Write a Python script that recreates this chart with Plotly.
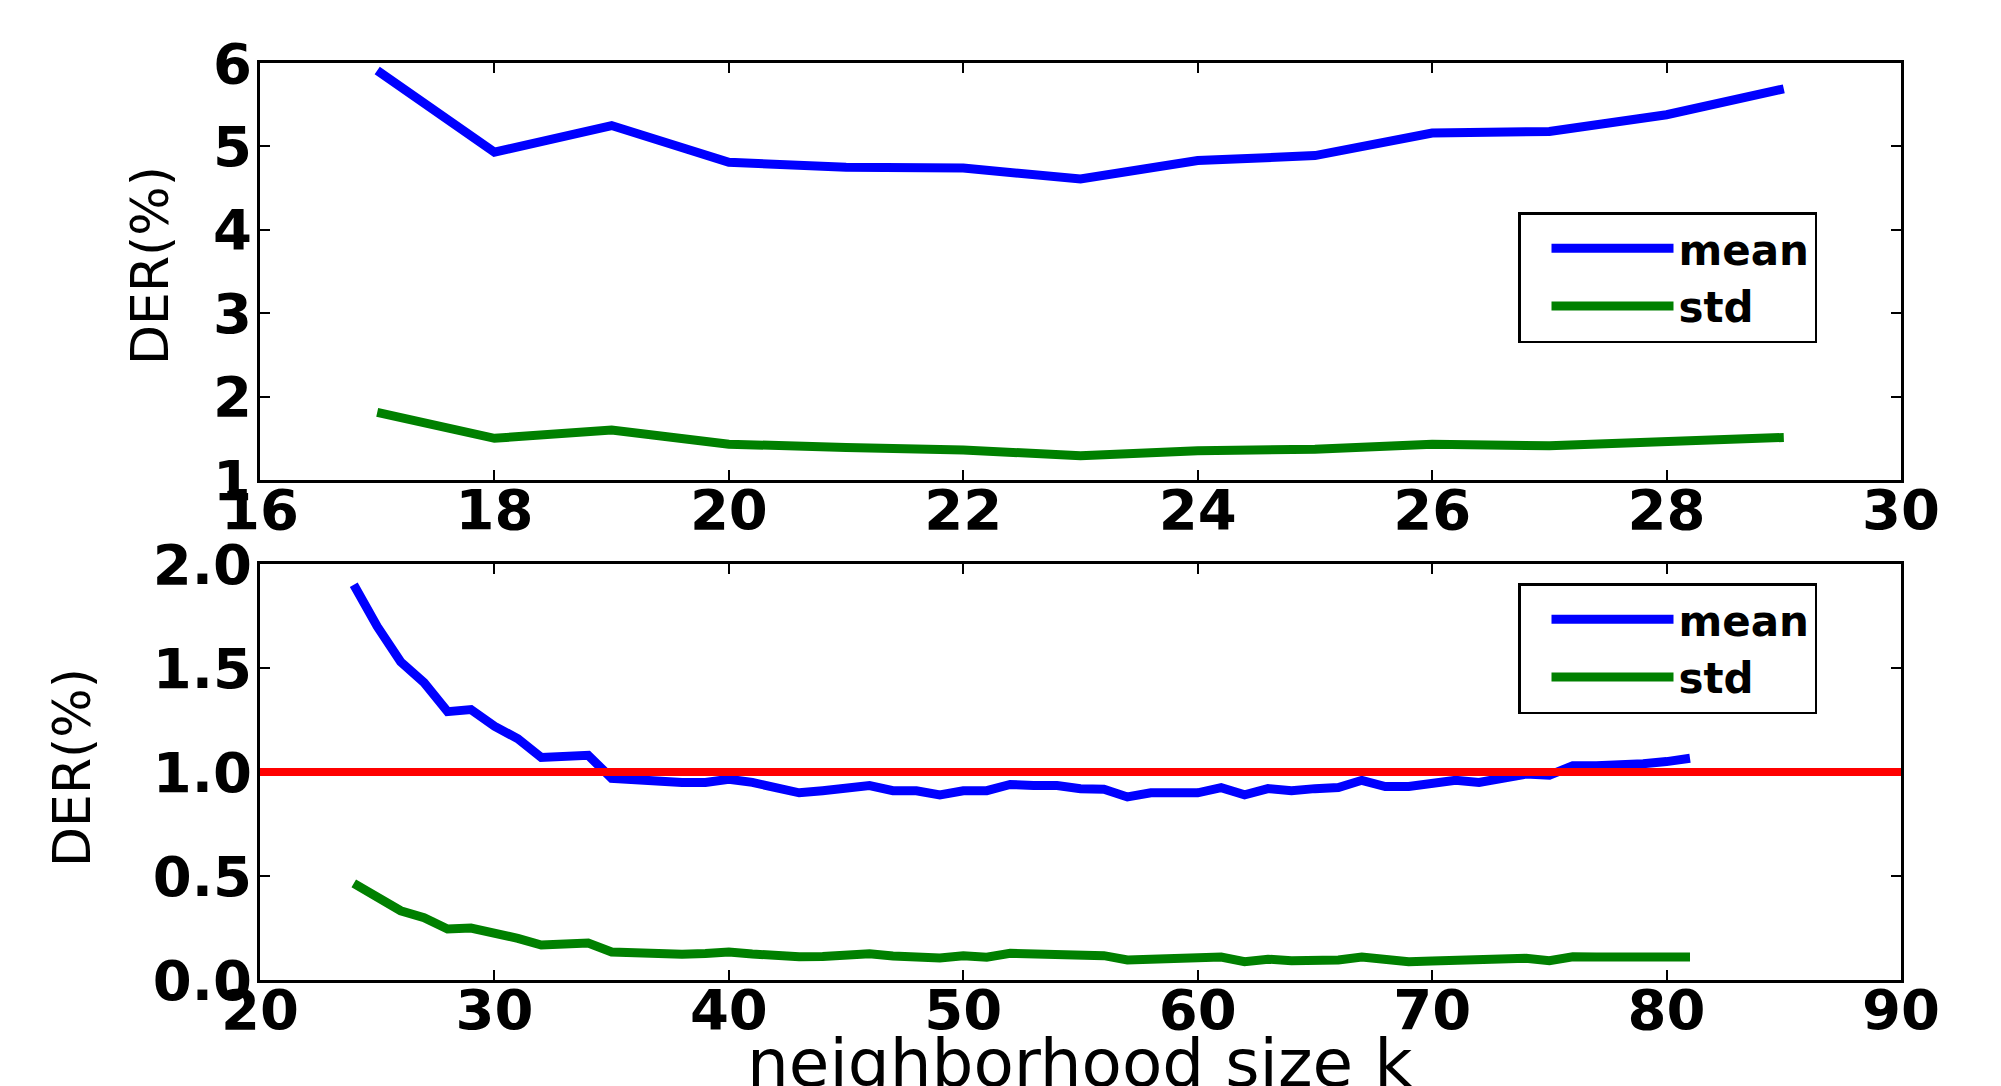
import plotly.graph_objects as go

# ---------------- data ----------------
k_top = [17, 18, 19, 20, 21, 22, 23, 24, 25, 26, 27, 28, 29]
mean_top = [5.91, 4.93, 5.25, 4.81, 4.75, 4.74, 4.61, 4.83, 4.89, 5.16, 5.18, 5.38, 5.69]
std_top = [1.81, 1.50, 1.60, 1.43, 1.39, 1.36, 1.29, 1.35, 1.37, 1.43, 1.41, 1.45, 1.51]

k_bottom = [24, 25, 26, 27, 28, 29, 30, 31, 32, 33, 34, 35, 36, 37, 38, 39, 40, 41, 42,
            43, 44, 45, 46, 47, 48, 49, 50, 51, 52, 53, 54, 55, 56, 57, 58, 59, 60, 61,
            62, 63, 64, 65, 66, 67, 68, 69, 70, 71, 72, 73, 74, 75, 76, 77, 78, 79, 80, 81]
mean_bottom = [1.90, 1.70, 1.53, 1.43, 1.29, 1.30, 1.22, 1.16, 1.07, 1.08, 1.08, 0.97,
               0.96, 0.96, 0.95, 0.95, 0.965, 0.95, 0.92, 0.90, 0.91, 0.92, 0.935, 0.91,
               0.91, 0.89, 0.91, 0.91, 0.94, 0.935, 0.935, 0.92, 0.917, 0.88, 0.90, 0.90,
               0.90, 0.925, 0.89, 0.92, 0.91, 0.92, 0.925, 0.96, 0.93, 0.93, 0.95, 0.96,
               0.95, 0.97, 0.99, 0.985, 1.03, 1.03, 1.03, 1.04, 1.05, 1.066]
std_bottom = [0.465, 0.40, 0.333, 0.30, 0.245, 0.25, 0.227, 0.20, 0.168, 0.175, 0.178,
              0.135, 0.128, 0.126, 0.124, 0.128, 0.135, 0.125, 0.115, 0.112, 0.113, 0.12,
              0.126, 0.115, 0.112, 0.106, 0.117, 0.11, 0.128, 0.125, 0.12, 0.118, 0.117,
              0.096, 0.10, 0.098, 0.098, 0.11, 0.088, 0.10, 0.093, 0.093, 0.096, 0.11,
              0.098, 0.088, 0.091, 0.094, 0.088, 0.096, 0.104, 0.093, 0.112, 0.11, 0.108,
              0.11, 0.111, 0.111]
threshold = 1.0

top_xticks = [16, 18, 20, 22, 24, 26, 28, 30]
top_yticks = [1, 2, 3, 4, 5, 6]
bottom_xticks = [20, 30, 40, 50, 60, 70, 80, 90]
bottom_yticks = [0.0, 0.5, 1.0, 1.5, 2.0]

series_names = ["mean", "std"]
x_title = "neighborhood size k"
y_title = "DER(%)"

# ---------------- layout helpers ----------------
PAGE_W, PAGE_H = 2001, 1086
OFF = 8                      # default page body margin
W, H = PAGE_W - OFF, PAGE_H - OFF


def px(x):
    return (x - OFF) / W


def py(y):
    return 1 - (y - OFF) / H


BLUE, GREEN, RED = "#0000ff", "#008000", "#ff0000"
FONT = "DejaVu Sans"
LW = 9

fig = go.Figure()

fig.add_trace(go.Scatter(x=k_top, y=mean_top, mode="lines", name=series_names[0],
                         line=dict(color=BLUE, width=LW), xaxis="x", yaxis="y", legend="legend"))
fig.add_trace(go.Scatter(x=k_top, y=std_top, mode="lines", name=series_names[1],
                         line=dict(color=GREEN, width=LW), xaxis="x", yaxis="y", legend="legend"))
fig.add_trace(go.Scatter(x=k_bottom, y=mean_bottom, mode="lines", name=series_names[0],
                         line=dict(color=BLUE, width=LW), xaxis="x2", yaxis="y2", legend="legend2"))
fig.add_trace(go.Scatter(x=k_bottom, y=std_bottom, mode="lines", name=series_names[1],
                         line=dict(color=GREEN, width=LW), xaxis="x2", yaxis="y2", legend="legend2"))

fig.add_shape(type="line", xref="x2 domain", yref="y2", x0=0, x1=1, y0=threshold, y1=threshold,
              line=dict(color=RED, width=8), layer="above")

tickfont = dict(family=FONT, size=56, color="black", weight="bold")
axis_common = dict(showline=True, linecolor="black", linewidth=2.5, mirror="ticks",
                   ticks="inside", ticklen=10, tickwidth=1.5, tickcolor="black",
                   showgrid=False, zeroline=False, tickfont=tickfont, fixedrange=True,
                   automargin=False)
xaxis_common = dict(axis_common, ticklabelstandoff=-21)
yaxis_common = dict(axis_common, ticklabelstandoff=-6)

legend_common = dict(xanchor="left", yanchor="top", bgcolor="white", bordercolor="black",
                     borderwidth=2.5, font=dict(family=FONT, size=42, color="black", weight="bold"),
                     itemwidth=122, indentation=26, tracegroupgap=0)

xd = [px(260), px(1901)]
fig.update_layout(
    width=W, height=H, autosize=False,
    margin=dict(l=0, r=0, t=0, b=0, pad=0, autoexpand=False),
    template="none",
    paper_bgcolor="white", plot_bgcolor="white",
    xaxis=dict(domain=xd, range=[16, 30], tickvals=top_xticks, anchor="y", **xaxis_common),
    yaxis=dict(domain=[py(480), py(63)], range=[1, 6], tickvals=top_yticks,
               anchor="x", **yaxis_common),
    xaxis2=dict(domain=xd, range=[20, 90], tickvals=bottom_xticks, anchor="y2", **xaxis_common),
    yaxis2=dict(domain=[py(980), py(564)], range=[0, 2], tickvals=bottom_yticks,
                tickformat=".1f", anchor="x2", **yaxis_common),
    legend=dict(x=px(1518), y=py(212), **legend_common),
    legend2=dict(x=px(1518), y=py(583), **legend_common),
    showlegend=True,
)

fig.add_annotation(text=y_title, xref="paper", yref="paper", x=px(150), y=py(266),
                   textangle=-90, showarrow=False, xanchor="center", yanchor="middle",
                   font=dict(family=FONT, size=52, color="black"))
fig.add_annotation(text=y_title, xref="paper", yref="paper", x=px(72), y=py(767),
                   textangle=-90, showarrow=False, xanchor="center", yanchor="middle",
                   font=dict(family=FONT, size=52, color="black"))
fig.add_annotation(text=x_title, xref="paper", yref="paper", x=px(1080), y=py(1023),
                   showarrow=False, xanchor="center", yanchor="top",
                   font=dict(family=FONT, size=66, color="black"))

fig.write_html("out.html")
